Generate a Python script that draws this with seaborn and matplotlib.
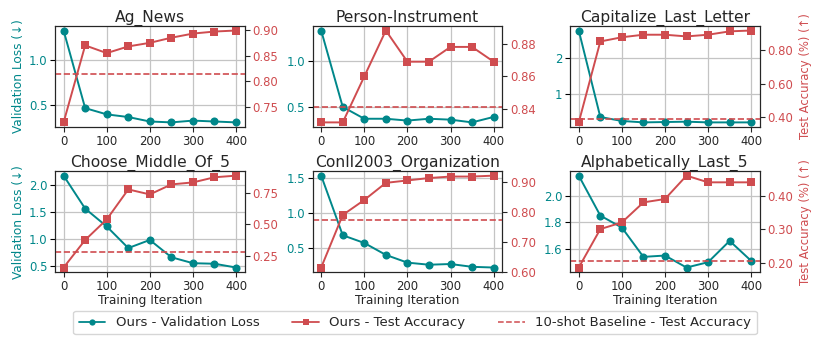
import numpy as np
import pandas as pd
import matplotlib
matplotlib.use("Agg")
import matplotlib.pyplot as plt
import seaborn as sns
from matplotlib.lines import Line2D
from matplotlib.ticker import FormatStrFormatter, MultipleLocator

sns.set_style("ticks")
plt.rcParams['font.family'] = ['DejaVu Sans']

iterations = [0, 50, 100, 150, 200, 250, 300, 350, 400]
tasks = ["Ag_News", "Person-Instrument", "Capitalize_Last_Letter",
         "Choose_Middle_Of_5", "Conll2003_Organization", "Alphabetically_Last_5"]

loss_ag = [1.33, 0.46, 0.39, 0.36, 0.31, 0.30, 0.32, 0.31, 0.30]
acc_ag = [0.720, 0.870, 0.855, 0.868, 0.875, 0.885, 0.893, 0.897, 0.899]
base_ag = 0.815

loss_pi = [1.34, 0.50, 0.37, 0.37, 0.35, 0.37, 0.36, 0.33, 0.39]
acc_pi = [0.832, 0.832, 0.860, 0.888, 0.869, 0.869, 0.878, 0.878, 0.869]
base_pi = 0.8415

loss_cl = [2.78, 0.36, 0.25, 0.21, 0.22, 0.23, 0.21, 0.21, 0.21]
acc_cl = [0.37, 0.85, 0.875, 0.89, 0.89, 0.88, 0.89, 0.91, 0.915]
base_cl = 0.39

loss_cm = [2.18, 1.57, 1.24, 0.84, 0.99, 0.67, 0.56, 0.55, 0.48]
acc_cm = [0.156, 0.376, 0.54, 0.78, 0.74, 0.82, 0.836, 0.877, 0.89]
base_cm = 0.282

loss_co = [1.53, 0.68, 0.57, 0.40, 0.29, 0.26, 0.27, 0.23, 0.22]
acc_co = [0.615, 0.790, 0.840, 0.897, 0.905, 0.913, 0.918, 0.918, 0.921]
base_co = 0.773

loss_al = [2.15, 1.85, 1.76, 1.54, 1.55, 1.46, 1.50, 1.66, 1.51]
acc_al = [0.185, 0.30, 0.32, 0.38, 0.39, 0.46, 0.44, 0.44, 0.44]
base_al = 0.205

losses = [loss_ag, loss_pi, loss_cl, loss_cm, loss_co, loss_al]
accs = [acc_ag, acc_pi, acc_cl, acc_cm, acc_co, acc_al]
bases = [base_ag, base_pi, base_cl, base_cm, base_co, base_al]
loss_steps = [0.5, 0.5, 1.0, 0.5, 0.5, 0.2]
acc_steps = [0.05, 0.02, 0.2, 0.25, 0.1, 0.1]

TEAL = "#00878a"
RED = "#cf4c4f"
TICK = 8.4

fig, axes = plt.subplots(2, 3, figsize=(8.17, 3.41), dpi=100)
fig.subplots_adjust(left=0.0673, right=0.930, top=0.924, bottom=0.202, wspace=0.358, hspace=0.436)

for i, ax in enumerate(axes.flat):
    df = pd.DataFrame({"it": iterations, "loss": losses[i], "acc": accs[i]})
    ax.grid(True, color="#c4c4c4", linewidth=0.9)
    ax.set_axisbelow(True)
    sns.lineplot(data=df, x="it", y="loss", ax=ax, color=TEAL, marker="o",
                 markersize=5.8, markeredgewidth=0, linewidth=1.4)
    ax2 = ax.twinx()
    sns.lineplot(data=df, x="it", y="acc", ax=ax2, color=RED, marker="s",
                 markersize=5.8, markeredgewidth=0, linewidth=1.4)
    ax2.axhline(bases[i], color=RED, linestyle="--", linewidth=1.2)
    ax.set_title(tasks[i], fontsize=11.2, pad=3)
    ax.set_xticks([0, 100, 200, 300, 400])
    ax.yaxis.set_major_locator(MultipleLocator(loss_steps[i]))
    ax2.yaxis.set_major_locator(MultipleLocator(acc_steps[i]))
    ax.tick_params(axis="x", labelsize=TICK, length=3.5, pad=2)
    ax.tick_params(axis="y", labelsize=TICK, labelcolor=TEAL, color="black", length=3.5, pad=2)
    ax2.tick_params(axis="y", labelcolor=RED, labelsize=TICK, length=3.5, pad=2)
    ax2.yaxis.set_major_formatter(FormatStrFormatter("%.2f"))
    ax.set_ylabel("")
    ax2.set_ylabel("")
    if i >= 3:
        ax.set_xlabel("Training Iteration", fontsize=8.8, labelpad=1)
    else:
        ax.set_xlabel("")
    if i % 3 == 0:
        ax.set_ylabel("Validation Loss (↓)", color=TEAL, fontsize=8.7, labelpad=3)
    if i % 3 == 2:
        ax2.set_ylabel("Test Accuracy (%) (↑)", color=RED, fontsize=8.4, labelpad=4)
    for sp in ax.spines.values():
        sp.set_color("black")

handles = [
    Line2D([], [], color=TEAL, marker="o", markersize=4.5, markeredgewidth=0, linewidth=1.3),
    Line2D([], [], color=RED, marker="s", markersize=4.5, markeredgewidth=0, linewidth=1.3),
    Line2D([], [], color=RED, linestyle="--", linewidth=1.1),
]
labels = ["Ours - Validation Loss", "Ours - Test Accuracy", "10-shot Baseline - Test Accuracy"]
fig.legend(handles, labels, loc="lower center", ncol=3, bbox_to_anchor=(0.508, 0.0),
           fontsize=9.5, frameon=True, columnspacing=2.5, handlelength=2)

fig.savefig("out.png", dpi=100)
